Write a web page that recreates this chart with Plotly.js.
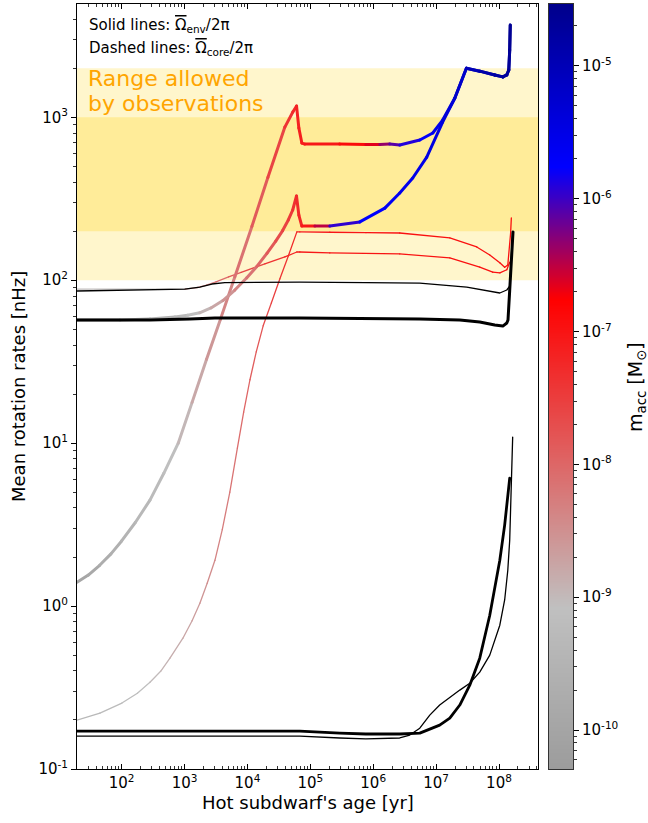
<!DOCTYPE html>
<html><head><meta charset="utf-8">
<script src="https://cdn.plot.ly/plotly-3.0.1.min.js"></script>
<style>
body{margin:0;background:#fff;}
#chart{width:648px;height:823px;}
.scatterlayer .js-line{stroke-linecap:round;stroke-linejoin:round;}
</style>
</head><body><div id="chart"></div>
<script>
// ---------- data ----------
// Curve A (thick, high peak)
const ageA = [19.5, 29.5, 44.7, 67.6, 100, 166, 282, 468, 794, 1318, 2239, 3715, 6310, 11780, 21130, 39360, 52720, 60390, 65700, 73300, 81800, 294000, 762000, 1.27e6, 1.83e6, 2.64e6, 5.5e6, 8.85e6, 1.27e7, 1.98e7, 3.03e7, 4.94e7, 8.56e7, 1.15e8, 1.33e8, 1.43e8, 1.48e8, 1.51e8];
const rateA = [1.40, 1.55, 1.78, 2.09, 2.51, 3.27, 4.47, 6.53, 10.0, 17.8, 32.7, 57.5, 105, 214, 427, 871, 1079, 1172, 859, 695, 685, 685, 680, 682, 685, 676, 726, 801, 962, 1310, 2000, 1920, 1820, 1770, 1820, 1950, 2590, 3690];
const logMaccA = [-10.0, -9.9, -9.78, -9.66, -9.55, -9.42, -9.3, -9.17, -9.05, -8.88, -8.7, -8.47, -8.25, -8.0, -7.7, -7.45, -7.3, -7.2, -7.15, -7.1, -7.1, -7.0, -6.8, -6.5, -6.2, -6.0, -5.8, -5.65, -5.5, -5.3, -5.1, -4.9, -4.8, -4.75, -4.7, -4.7, -4.65, -4.6];
// Curve B (thick, lower peak)
const ageB = [19.5, 94, 282, 703, 1122, 1738, 2630, 4074, 6310, 9772, 14125, 20417, 28184, 36308, 44668, 52481, 60256, 65700, 73300, 118000, 204000, 612000, 1.53e6, 2.64e6, 4.25e6, 7.1e6, 1.27e7, 1.98e7, 3.03e7, 4.94e7, 8.56e7, 1.15e8, 1.33e8, 1.43e8, 1.48e8, 1.51e8];
const rateB = [57.0, 57.0, 57.8, 59.4, 61.0, 63.1, 67.6, 75.0, 87.1, 103.5, 121.6, 146.2, 173.8, 201.8, 234.4, 269.8, 328.9, 251, 215, 215, 215, 228, 277, 343, 424, 570, 935, 1310, 2000, 1920, 1820, 1770, 1820, 1950, 2590, 3690];
const logMaccB = [-10.2, -10.0, -9.7, -9.4, -9.2, -9.05, -8.85, -8.65, -8.45, -8.25, -8.05, -7.9, -7.75, -7.6, -7.5, -7.4, -7.3, -7.25, -7.2, -6.9, -6.1, -5.8, -5.7, -5.6, -5.55, -5.5, -5.4, -5.3, -5.1, -4.9, -4.8, -4.75, -4.7, -4.7, -4.65, -4.6];
// Curve C (thin, from 0.2 nHz)
const ageC = [19.5, 45.2, 101, 178, 282, 417, 586, 942, 1318, 1754, 2291, 3041, 3981, 5248, 6918, 8710, 10965, 13804, 17783, 23988, 32810, 44668, 61094, 68100, 204000, 762000, 2.64e6, 1.65e7, 4.43e7, 7.13e7, 1.03e8, 1.23e8, 1.38e8, 1.53e8, 1.57e8];
const rateC = [0.1995, 0.220, 0.254, 0.292, 0.341, 0.398, 0.479, 0.635, 0.813, 1.04, 1.38, 1.91, 2.95, 5.01, 9.33, 15.5, 24.5, 36.3, 52.5, 72.4, 102, 141, 198, 198, 197, 196, 195, 182, 160, 143, 128, 120, 124, 195, 241];
const logMaccC = [-9.4, -9.3, -9.2, -9.12, -9.05, -8.97, -8.9, -8.8, -8.7, -8.6, -8.5, -8.4, -8.3, -8.2, -8.1, -8.02, -7.93, -7.85, -7.75, -7.6, -7.45, -7.32, -7.2, -7.15, -7.05, -7.0, -6.95, -6.95, -6.95, -6.95, -6.95, -6.95, -6.95, -6.95, -6.95];
// Curve D (thin, from 88 nHz)
const ageD = [19.5, 1010, 1585, 2239, 3162, 5012, 7943, 18900, 39400, 61100, 68100, 204000, 2.64e6, 1.65e7, 4.94e7, 7.95e7, 1.03e8, 1.33e8, 1.48e8];
const rateD = [88.3, 88.3, 90.2, 93.3, 97.7, 104.7, 111.7, 126, 139, 149, 149, 147, 145, 137, 120.5, 112, 111, 116, 129];
const logMaccD = [-9.5, -8.6, -8.45, -8.3, -8.15, -7.95, -7.75, -7.45, -7.25, -7.15, -7.1, -7.0, -7.0, -6.95, -6.95, -6.95, -6.95, -6.95, -6.95];
// Black curves (no accretion)
const ageE = [19.5, 282, 1010, 1750, 2720, 4380, 68100, 762000, 5.5e6, 3.07e7, 7.95e7, 1.03e8, 1.33e8, 1.48e8, 1.56e8, 1.65e8];
const rateE = [85.9, 87.1, 88.3, 90.8, 94.8, 96.8, 97.5, 96.8, 96.1, 90.8, 84.7, 83.5, 87.1, 92.1, 133, 198];
const ageF = [19.5, 282, 1215, 3040, 68100, 762000, 5.5e6, 2.38e7, 4.94e7, 8.56e7, 1.15e8, 1.33e8, 1.39e8, 1.48e8, 1.56e8, 1.67e8];
const rateF = [57.0, 57.0, 57.8, 58.6, 58.6, 58.2, 57.8, 57.0, 55.4, 53.1, 52.3, 54.6, 57.0, 87, 133, 198];
const ageG = [19.5, 68100, 294000, 762000, 2.64e6, 5.5e6, 1.14e7, 1.65e7, 2.38e7, 3.43e7, 4.94e7, 7.13e7, 1.03e8, 1.23e8, 1.48e8];
const rateG = [0.171, 0.171, 0.166, 0.164, 0.164, 0.166, 0.186, 0.205, 0.247, 0.327, 0.479, 0.879, 1.91, 3.14, 6.1];
const ageH = [19.5, 68100, 294000, 762000, 2.64e6, 3.81e6, 5.5e6, 7.93e6, 1.14e7, 1.65e7, 2.38e7, 3.43e7, 4.94e7, 7.13e7, 1.03e8, 1.23e8, 1.38e8, 1.48e8, 1.56e8, 1.65e8];
const rateH = [0.159, 0.159, 0.155, 0.153, 0.155, 0.1615, 0.178, 0.214, 0.247, 0.276, 0.305, 0.336, 0.393, 0.500, 0.763, 1.09, 1.66, 2.54, 4.48, 10.9];
// Observational ranges [nHz]
const bandOuter = [100, 2000];
const bandInner = [200, 1000];
// Tick labels
const xTickVals = [1e2, 1e3, 1e4, 1e5, 1e6, 1e7, 1e8];
const xTickText = ['10<sup>2</sup>','10<sup>3</sup>','10<sup>4</sup>','10<sup>5</sup>','10<sup>6</sup>','10<sup>7</sup>','10<sup>8</sup>'];
const yTickVals = [0.1, 1, 10, 100, 1000];
const yTickText = ['10<sup>-1</sup>','10<sup>0</sup>','10<sup>1</sup>','10<sup>2</sup>','10<sup>3</sup>'];
const cTickVals = [-10, -9, -8, -7, -6, -5];
const cTickText = ['10<sup>-10</sup>','10<sup>-9</sup>','10<sup>-8</sup>','10<sup>-7</sup>','10<sup>-6</sup>','10<sup>-5</sup>'];

// ---------- colour scale (log10 m_acc) ----------
const cMin = -10.293, cMax = -4.534;
const cNodes = [[0,[156,156,156]],[0.2115,[192,192,192]],[0.6135,[255,0,0]],[0.787,[0,0,255]],[1,[0,0,139]]];
const colorscale = cNodes.map(n => [n[0], 'rgb(' + n[1].join(',') + ')']);
function colorOf(lm){
  let f = (lm - cMin) / (cMax - cMin);
  f = Math.max(0, Math.min(1, f));
  for (let i = 0; i < cNodes.length - 1; i++){
    const f0 = cNodes[i][0], c0 = cNodes[i][1], f1 = cNodes[i+1][0], c1 = cNodes[i+1][1];
    if (f <= f1){
      const t = (f - f0) / (f1 - f0);
      return 'rgb(' + c0.map((v,k) => Math.round(v + (c1[k]-v)*t)).join(',') + ')';
    }
  }
  return 'rgb(0,0,139)';
}

const traces = [];
function coloredCurve(ages, rates, lms, width){
  for (let i = 0; i < ages.length - 1; i++){
    traces.push({type:'scatter', mode:'lines', x:[ages[i], ages[i+1]], y:[rates[i], rates[i+1]],
      line:{color:colorOf((lms[i]+lms[i+1])/2), width:width}, hoverinfo:'skip', showlegend:false});
  }
}
function blackCurve(ages, rates, width){
  traces.push({type:'scatter', mode:'lines', x:ages, y:rates, line:{color:'black', width:width}, hoverinfo:'skip', showlegend:false});
}
coloredCurve(ageC, rateC, logMaccC, 1.3);
coloredCurve(ageD, rateD, logMaccD, 1.3);
coloredCurve(ageA, rateA, logMaccA, 3);
coloredCurve(ageB, rateB, logMaccB, 3);
blackCurve(ageE, rateE, 1.3);
blackCurve(ageF, rateF, 3);
blackCurve(ageG, rateG, 2.8);
blackCurve(ageH, rateH, 1.3);

// colour bar as a heatmap on its own axis
const cbN = 300, cbY = [], cbZ = [];
for (let i = 0; i < cbN; i++){ const v = cMin + (i + 0.5) * (cMax - cMin) / cbN; cbY.push(v); cbZ.push([v]); }
traces.push({type:'heatmap', x:[0], y:cbY, z:cbZ, xaxis:'x2', yaxis:'y2', colorscale:colorscale, zmin:cMin, zmax:cMax, showscale:false, hoverinfo:'skip', zsmooth:'best'});

// minor ticks
const xMinor = [], yMinor = [], cMinor = [];
for (let e = 1; e <= 8; e++) for (let k = 2; k <= 9; k++) xMinor.push(k * Math.pow(10, e));
for (let e = -1; e <= 3; e++) for (let k = 2; k <= 9; k++) yMinor.push(k * Math.pow(10, e));
for (let e = -11; e <= -5; e++) for (let k = 2; k <= 9; k++) cMinor.push(e + Math.log10(k));

const L = 77, R = 2, T = 4, B = 54, W = 648, H = 823;
const pw = W - L - R, ph = H - T - B;
const px = v => (v - L) / pw, py = v => (H - B - v) / ph;
const font = 'DejaVu Sans, Verdana, sans-serif';
const OM = '<span style="text-decoration:overline">\u03A9</span>';

const layout = {
  width: W, height: H,
  margin: {l: L, r: R, t: T, b: B, pad: 0},
  paper_bgcolor: 'white', plot_bgcolor: 'white',
  showlegend: false,
  font: {family: font, size: 15, color: 'black'},
  xaxis: {type: 'log', range: [Math.log10(19.5), 8.62], domain: [0, px(538)], anchor: 'y',
    showline: true, linecolor: 'black', linewidth: 1, mirror: 'ticks',
    ticks: 'inside', ticklen: 5, tickwidth: 1, tickcolor: 'black',
    tickmode: 'array', tickvals: xTickVals, ticktext: xTickText, tickfont: {size: 15},
    showgrid: false, zeroline: false,
    minor: {ticks: 'inside', ticklen: 3, tickwidth: 0.8, tickcolor: 'black', tickmode: 'array', tickvals: xMinor, showgrid: false}},
  yaxis: {type: 'log', range: [-1, 3.6955], domain: [0, 1], anchor: 'x',
    showline: true, linecolor: 'black', linewidth: 1, mirror: true,
    ticks: 'outside', ticklen: 5, tickwidth: 1, tickcolor: 'black',
    tickmode: 'array', tickvals: yTickVals, ticktext: yTickText, tickfont: {size: 15},
    showgrid: false, zeroline: false,
    minor: {ticks: 'outside', ticklen: 3, tickwidth: 0.8, tickcolor: 'black', tickmode: 'array', tickvals: yMinor, showgrid: false}},
  xaxis2: {domain: [px(549), px(573)], anchor: 'y2', range: [-0.5, 0.5], showticklabels: false, ticks: '',
    showline: true, mirror: true, linecolor: '#333', linewidth: 1, showgrid: false, zeroline: false, fixedrange: true},
  yaxis2: {domain: [0, 1], anchor: 'x2', side: 'right', range: [cMin, cMax],
    tickmode: 'array', tickvals: cTickVals, ticktext: cTickText, tickfont: {size: 15},
    ticks: 'outside', ticklen: 5, tickwidth: 1, tickcolor: 'black',
    showline: true, mirror: true, linecolor: '#333', linewidth: 1, showgrid: false, zeroline: false,
    minor: {ticks: 'outside', ticklen: 3, tickwidth: 0.8, tickcolor: 'black', tickmode: 'array', tickvals: cMinor, showgrid: false}},
  shapes: [
    {type: 'rect', xref: 'x domain', yref: 'y', x0: 0, x1: 1, y0: bandOuter[0], y1: bandOuter[1], fillcolor: '#FFF6CC', line: {width: 0}, layer: 'below'},
    {type: 'rect', xref: 'x domain', yref: 'y', x0: 0, x1: 1, y0: bandInner[0], y1: bandInner[1], fillcolor: '#FFEC99', line: {width: 0}, layer: 'below'}
  ],
  annotations: [
    {xref: 'paper', yref: 'paper', x: px(87), y: py(25), xanchor: 'left', yanchor: 'middle', showarrow: false,
      text: 'Solid lines: ' + OM + '<sub>env</sub>/2\u03C0', font: {size: 15, family: font}},
    {xref: 'paper', yref: 'paper', x: px(87), y: py(48), xanchor: 'left', yanchor: 'middle', showarrow: false,
      text: 'Dashed lines: ' + OM + '<sub>core</sub>/2\u03C0', font: {size: 15, family: font}},
    {xref: 'paper', yref: 'paper', x: px(86), y: py(79), xanchor: 'left', yanchor: 'middle', showarrow: false,
      text: 'Range allowed', font: {size: 22, family: font, color: '#FFA500'}},
    {xref: 'paper', yref: 'paper', x: px(86), y: py(104), xanchor: 'left', yanchor: 'middle', showarrow: false,
      text: 'by observations', font: {size: 22, family: font, color: '#FFA500'}},
    {xref: 'paper', yref: 'paper', x: px(307.5), y: py(802), xanchor: 'center', yanchor: 'middle', showarrow: false,
      text: "Hot subdwarf's age [yr]", font: {size: 18, family: font}},
    {xref: 'paper', yref: 'paper', x: px(18), y: py(387), xanchor: 'center', yanchor: 'middle', showarrow: false, textangle: -90,
      text: 'Mean rotation rates [nHz]', font: {size: 18, family: font}},
    {xref: 'paper', yref: 'paper', x: px(636), y: py(387), xanchor: 'center', yanchor: 'middle', showarrow: false, textangle: -90,
      text: 'm<sub>acc</sub> [M<sub>\u2299</sub>]', font: {size: 19, family: font}}
  ]
};

Plotly.newPlot('chart', traces, layout, {staticPlot: true, displayModeBar: false});
</script>
</body></html>
